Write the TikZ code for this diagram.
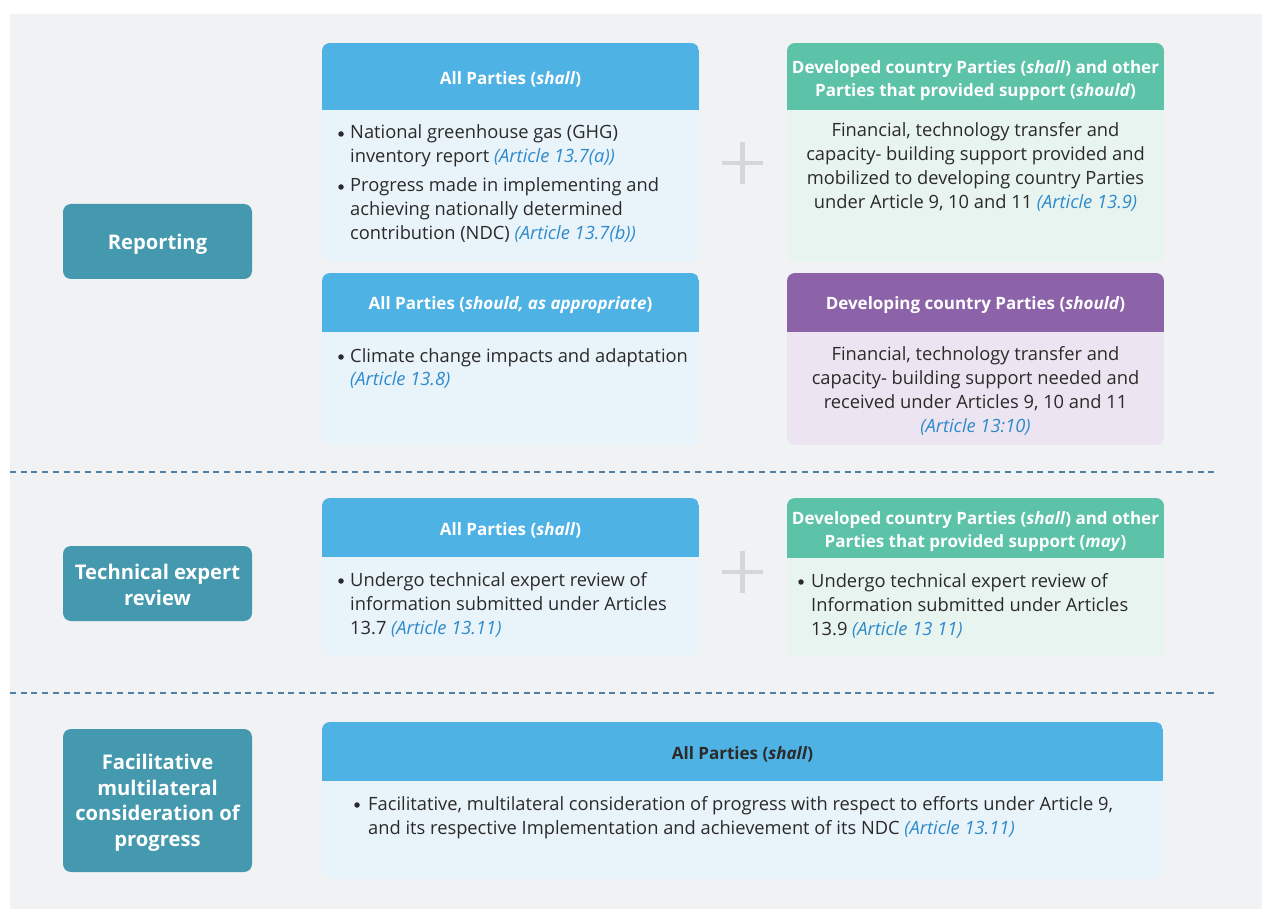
\documentclass[tikz,border=0pt]{standalone}
\usepackage{fontspec}
\setmainfont{Open Sans}

\definecolor{panelbg}{HTML}{F0F2F4}
\definecolor{stagecol}{HTML}{4499AE}
\definecolor{bluehead}{HTML}{4FB2E4}
\definecolor{bluebody}{HTML}{E8F3FA}
\definecolor{greenhead}{HTML}{5CC2A8}
\definecolor{greenbody}{HTML}{E7F4F0}
\definecolor{purplehead}{HTML}{8C62A9}
\definecolor{purplebody}{HTML}{ECE5F1}
\definecolor{artblue}{HTML}{2F8ACB}
\definecolor{ink}{HTML}{2B2A29}
\definecolor{plusgrey}{HTML}{D5D6D8}
\definecolor{dashcol}{HTML}{4F7FA3}

\newcommand\artref[1]{\textcolor{artblue}{\textit{#1}}}

% card with a coloured header band and a pale body, rounded outer corners
\newcommand\cardbox[7]{%
  \begin{scope}
    \clip[rounded corners=8pt] (#1,#2) rectangle (#3,#5);
    \fill[#6] (#1,#2) rectangle (#3,#4);
    \fill[#7] (#1,#4) rectangle (#3,#5);
  \end{scope}}

\tikzset{
  stagebox/.style={fill=stagecol, rounded corners=8pt, inner sep=0pt,
    minimum width=189pt},
  stagetext/.style={text=white, align=center, inner sep=0pt,
    font=\bfseries\fontsize{20.2}{25.5}\selectfont},
  headtext/.style={text=white, align=center, inner sep=0pt,
    font=\bfseries\fontsize{17}{23}\selectfont},
  % multi-line text nodes are placed by the baseline of their last line
  bodytext/.style={text=ink, inner sep=0pt, anchor=base west, align=left,
    font=\fontsize{18.3}{24}\selectfont},
  centertext/.style={text=ink, inner sep=0pt, anchor=base, align=center,
    font=\fontsize{18.3}{24}\selectfont},
  dot/.style={circle, fill=ink, inner sep=0pt, minimum size=5.5pt},
  plussign/.style={draw=plusgrey, line width=4.5pt},
  divider/.style={draw=dashcol, line width=1.8pt, dash pattern=on 6pt off 4.7pt}
}

\begin{document}
\begin{tikzpicture}[x=1pt, y=-1pt]
  \useasboundingbox (0,0) rectangle (1262,909);
  \fill[white] (0,0) rectangle (1262,909);
  \fill[panelbg] (10,14) rectangle (1262,909);

  % stage labels on the left
  \node[stagebox, minimum height=75pt] (reporting) at (157.5,241.5) {};
  \node[stagetext] (reporting-label) at (157.5,244) {Reporting};
  \node[stagebox, minimum height=75pt] (review) at (157.5,583.5) {};
  \node[stagetext] (review-label) at (157.5,585) {Technical expert\\review};
  \node[stagebox, minimum height=143pt] (fmcp) at (157.5,800.5) {};
  \node[stagetext] (fmcp-label) at (157.5,802.5)
    {Facilitative\\multilateral\\consideration of\\progress};

  % reporting: cards
  \cardbox{322}{43}{699}{110}{262}{bluehead}{bluebody}
  \cardbox{787}{43}{1164}{110}{262}{greenhead}{greenbody}
  \cardbox{322}{273}{699}{332}{445}{bluehead}{bluebody}
  \cardbox{787}{273}{1164}{332}{445}{purplehead}{purplebody}

  \node[headtext] (h1) at (510.5,79) {All Parties (\textit{shall})};
  \node[headtext] (h2) at (975.5,81) {Developed country Parties (\textit{shall}) and other\\
    Parties that provided support (\textit{should})};
  \node[headtext] (h3) at (510.5,305) {All Parties (\textit{should, as appropriate})};
  \node[headtext] (h4) at (975.5,305) {Developing country Parties (\textit{should})};

  \node[dot] (d1a) at (341,134) {};
  \node[bodytext] (t1a) at (350,163) {National greenhouse gas (GHG)\\inventory report \artref{(Article 13.7(a))}};
  \node[dot] (d1b) at (341,187) {};
  \node[bodytext] (t1b) at (350,240) {Progress made in implementing and\\achieving nationally determined\\contribution (NDC) \artref{(Article 13.7(b))}};

  \node[centertext] (t2) at (975.5,209) {Financial, technology transfer and\\
    capacity- building support provided and\\mobilized to developing country Parties\\
    under Article 9, 10 and 11 \artref{(Article 13.9)}};

  \node[dot] (d3) at (341,357) {};
  \node[bodytext] (t3) at (350,386) {Climate change impacts and adaptation\\\artref{(Article 13.8)}};

  \node[centertext] (t4) at (975.5,432) {Financial, technology transfer and\\
    capacity- building support needed and\\received under Articles 9, 10 and 11\\
    \artref{(Article 13:10)}};

  \draw[plussign] (722,163) -- (763,163) (742.5,142) -- (742.5,184);

  \draw[divider] (10,472) -- (1218,472);

  % technical expert review: cards
  \cardbox{322}{498}{699}{557}{656}{bluehead}{bluebody}
  \cardbox{787}{498}{1164}{558}{656}{greenhead}{greenbody}

  \node[headtext] (h5) at (510.5,530) {All Parties (\textit{shall})};
  \node[headtext] (h6) at (975.5,531.5) {Developed country Parties (\textit{shall}) and other\\
    Parties that provided support (\textit{may})};

  \node[dot] (d5) at (341,581) {};
  \node[bodytext] (t5) at (350,634) {Undergo technical expert review of\\
    information submitted under Articles\\13.7 \artref{(Article 13.11)}};
  \node[dot] (d6) at (801,582) {};
  \node[bodytext] (t6) at (811,635) {Undergo technical expert review of\\
    Information submitted under Articles\\13.9 \artref{(Article 13 11)}};

  \draw[plussign] (722,572) -- (763,572) (742.5,551) -- (742.5,593);

  \draw[divider] (10,693) -- (1218,693);

  % facilitative multilateral consideration of progress: card
  \cardbox{322}{722}{1163}{781}{879}{bluehead}{bluebody}
  \node[headtext, text=ink] (h7) at (742.5,754) {All Parties (\textit{shall})};
  \node[dot] (d7) at (357,805) {};
  \node[bodytext] (t7) at (368,834) {Facilitative, multilateral consideration of progress with respect to efforts under Article 9,\\
    and its respective Implementation and achievement of its NDC \artref{(Article 13.11)}};
\end{tikzpicture}
\end{document}
